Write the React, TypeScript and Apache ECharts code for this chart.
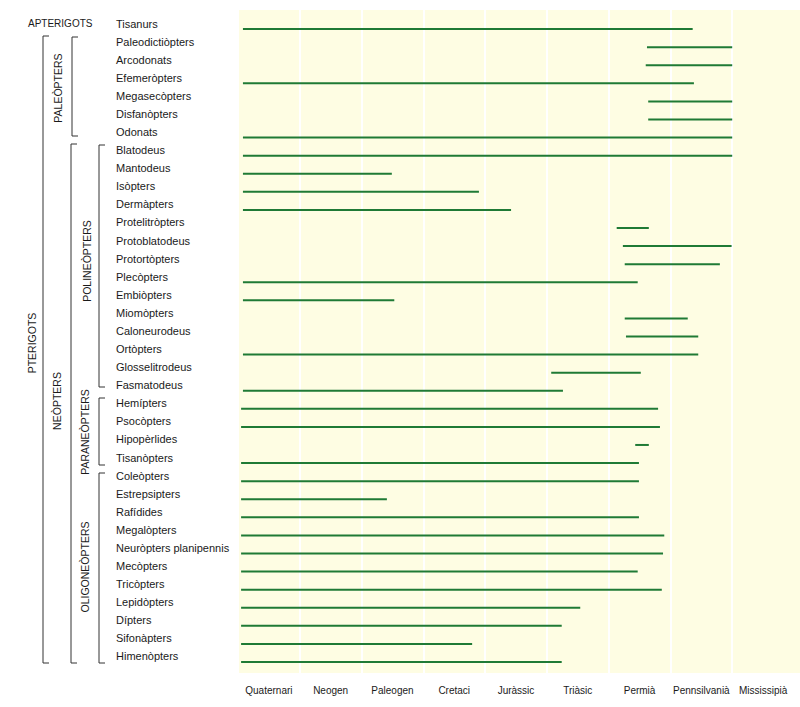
import React, { useEffect, useRef } from "react";
import * as echarts from "echarts";

const periods = ["Quaternari", "Neogen", "Paleogen", "Cretaci", "Juràssic", "Triàsic", "Permià", "Pennsilvanià", "Mississipià"];

const taxa = [
  "Tisanurs", "Paleodictiòpters", "Arcodonats", "Efemeròpters", "Megasecòpters", "Disfanòpters", "Odonats",
  "Blatodeus", "Mantodeus", "Isòpters", "Dermàpters", "Protelitròpters", "Protoblatodeus", "Protortòpters",
  "Plecòpters", "Embiòpters", "Miomòpters", "Caloneurodeus", "Ortòpters", "Glosselitrodeus", "Fasmatodeus",
  "Hemípters", "Psocòpters", "Hipopèrlides", "Tisanòpters", "Coleòpters", "Estrepsipters", "Rafídides",
  "Megalòpters", "Neuròpters planipennis", "Mecòpters", "Tricòpters", "Lepidòpters", "Dípters", "Sifonàpters",
  "Himenòpters",
];

// range of each taxon, in period units (0 = present, 9 = base of Mississipià)
const rangeStart = [
  0.08, 6.62, 6.6, 0.08, 6.64, 6.64, 0.08,
  0.08, 0.08, 0.08, 0.08, 6.13, 6.23, 6.26,
  0.08, 0.08, 6.26, 6.28, 0.08, 5.07, 0.08,
  0.05, 0.05, 6.43, 0.05, 0.05, 0.05, 0.05,
  0.05, 0.05, 0.05, 0.05, 0.05, 0.05, 0.05,
  0.05,
];
const rangeEnd = [
  7.36, 8.0, 8.0, 7.38, 8.0, 8.0, 8.0,
  8.0, 2.49, 3.9, 4.42, 6.65, 7.99, 7.8,
  6.47, 2.53, 7.28, 7.45, 7.45, 6.52, 5.26,
  6.8, 6.83, 6.65, 6.49, 6.49, 2.41, 6.49,
  6.9, 6.88, 6.47, 6.86, 5.54, 5.24, 3.79,
  5.24,
];

const groupLabels = ["APTERIGOTS", "PTERIGOTS", "PALEÒPTERS", "NEÒPTERS", "POLINEÒPTERS", "PARANEÒPTERS", "OLIGONEÒPTERS"];

const FONT = "Liberation Sans, Arial, sans-serif";
const CREAM = "#fefde3";
const GREEN = "#1f7a35";
const INK = "#1a1a1a";

export default function App() {
  const ref = useRef<HTMLDivElement>(null);
  useEffect(() => {
    if (!ref.current) return;
    const chart = echarts.init(ref.current, null, { renderer: "svg" });
    const data = taxa.map((t, i) => [i, rangeStart[i], rangeEnd[i]]);

    const bracket = (x: number, y1: number, y2: number, tick: number) => ({
      type: "polyline",
      shape: { points: [[x + tick, y1], [x, y1], [x, y2], [x + tick, y2]] },
      style: { stroke: "#333", lineWidth: 1, fill: null },
      silent: true,
    });
    const vtext = (text: string, x: number, y: number) => ({
      type: "text",
      x,
      y,
      rotation: Math.PI / 2,
      style: { text, fontSize: 10.5, fontFamily: FONT, fill: INK, align: "center", verticalAlign: "middle" },
      silent: true,
    });

    chart.setOption({
      animation: false,
      backgroundColor: "#ffffff",
      grid: [
        { left: 238, right: 6, top: 10, bottom: 34, show: true, backgroundColor: CREAM, borderWidth: 0 },
        { left: 238, right: 6, top: 20, bottom: 36, show: false },
      ],
      xAxis: [
        {
          type: "category",
          gridIndex: 0,
          data: periods,
          boundaryGap: true,
          axisLine: { show: false },
          axisTick: { show: false },
          splitLine: { show: true, lineStyle: { color: "#ffffff", width: 2 } },
          axisLabel: { fontSize: 10, color: INK, fontFamily: FONT, margin: 12, interval: 0 },
        },
        {
          type: "value",
          gridIndex: 1,
          min: 0,
          max: 9,
          show: false,
        },
      ],
      yAxis: [
        { type: "value", gridIndex: 0, show: false },
        {
          type: "category",
          gridIndex: 1,
          data: taxa,
          inverse: true,
          axisLine: { show: false },
          axisTick: { show: false },
          splitLine: { show: false },
          axisLabel: {
            interval: 0,
            align: "left",
            margin: 122,
            fontSize: 11,
            color: INK,
            fontFamily: FONT,
            verticalAlign: "bottom",
            lineHeight: 11,
          },
        },
      ],
      series: [
        {
          type: "custom",
          xAxisIndex: 1,
          yAxisIndex: 1,
          encode: { x: [1, 2], y: 0 },
          data,
          renderItem: (params: any, api: any) => {
            const i = api.value(0);
            const p1 = api.coord([api.value(1), i]);
            const p2 = api.coord([api.value(2), i]);
            return {
              type: "line",
              shape: { x1: p1[0], y1: p1[1], x2: p2[0], y2: p2[1] },
              style: { stroke: GREEN, lineWidth: 2 },
            };
          },
        },
      ],
      graphic: [
        { type: "rect", shape: { x: 793, y: 10, width: 7, height: 663 }, style: { fill: CREAM }, z: 5, silent: true },
        {
          type: "text",
          x: 28,
          y: 23,
          style: { text: groupLabels[0], fontSize: 10, fontFamily: FONT, fill: INK, align: "left", verticalAlign: "middle" },
          silent: true,
        },
        bracket(43, 36, 663, 6),
        bracket(72, 37, 136, 6),
        bracket(71, 144, 663, 6),
        bracket(99, 145, 387, 6),
        bracket(99, 398, 465, 6),
        bracket(99, 473, 663, 6),
        vtext(groupLabels[1], 32, 343),
        vtext(groupLabels[2], 58, 88),
        vtext(groupLabels[3], 57, 401),
        vtext(groupLabels[4], 87, 261),
        vtext(groupLabels[5], 85, 432),
        vtext(groupLabels[6], 85, 567),
      ],
    });
    return () => chart.dispose();
  }, []);
  return <div ref={ref} style={{ width: 800, height: 707, position: "absolute", left: 0, top: 0 }} />;
}
